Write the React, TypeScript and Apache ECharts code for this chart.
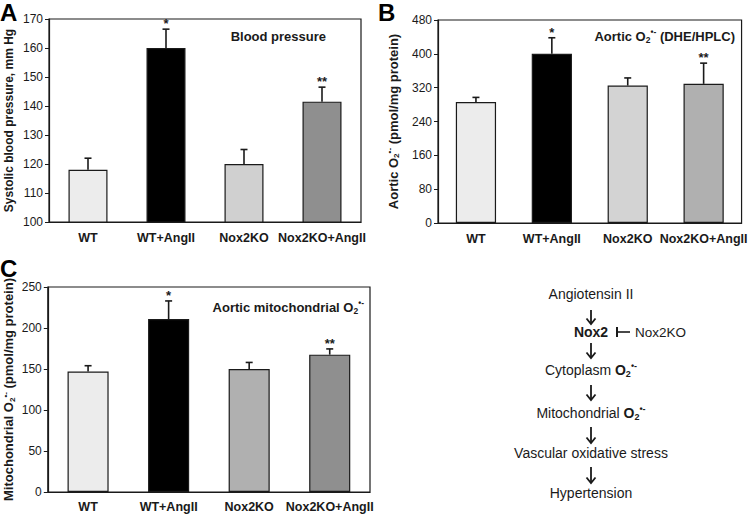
import React, { useEffect, useRef } from "react";
import * as echarts from "echarts";

const categories = ["WT", "WT+AngII", "Nox2KO", "Nox2KO+AngII"];

const bpMean = [118, 160, 120, 141.5];
const bpErr = [4, 6.5, 5, 5];
const bpSig = ["", "*", "", "**"];
const bpColors = ["#ececec", "#000000", "#d0d0d0", "#8f8f8f"];
const bpTicks = { min: 100, max: 170, interval: 10 };

const o2Mean = [286, 400, 325, 329];
const o2Err = [11, 38, 18, 49];
const o2Sig = ["", "*", "", "**"];
const o2Colors = ["#ececec", "#000000", "#d3d3d3", "#b0b0b0"];
const o2Ticks = { min: 0, max: 480, interval: 80 };

const mitoMean = [147, 211, 150, 167.5];
const mitoErr = [7, 22, 8, 7];
const mitoSig = ["", "*", "", "**"];
const mitoColors = ["#ececec", "#000000", "#b0b0b0", "#8f8f8f"];
const mitoTicks = { min: 0, max: 250, interval: 50 };

const FONT = '"Liberation Sans", Arial, Helvetica, sans-serif';
const DARK = "#1a1a1a";

const subRich = (size: number, bold: boolean) => ({
  n: { fontSize: size, fontWeight: bold ? "bold" : "normal", fontFamily: FONT, color: DARK },
  sub: { fontSize: size * 0.62, fontWeight: bold ? "bold" : "normal", fontFamily: FONT, color: DARK, padding: [size * 0.55, 0, 0, 0] },
  sup: { fontSize: size * 0.62, fontWeight: "bold", fontFamily: FONT, color: DARK, padding: [0, 0, size * 0.6, 0] },
});

function gridAxes(idx: number, ticks: { min: number; max: number; interval: number }, name: string, nameGap: number, labelMargin: number, nameSize: number, rich?: any) {
  const xAxis = {
    type: "category",
    gridIndex: idx,
    data: categories,
    axisLine: { lineStyle: { color: DARK, width: 1.2 } },
    axisTick: { show: false },
    axisLabel: { fontFamily: FONT, fontWeight: "bold", fontSize: 12.5, color: DARK, margin: labelMargin, interval: 0 },
  };
  const yAxis = {
    type: "value",
    gridIndex: idx,
    min: ticks.min,
    max: ticks.max,
    interval: ticks.interval,
    splitLine: { show: false },
    axisLine: { show: true, lineStyle: { color: DARK, width: 1.2 } },
    axisTick: { show: true, length: 4, lineStyle: { color: DARK, width: 1 } },
    axisLabel: { fontFamily: FONT, fontSize: 12, color: DARK, margin: 6 },
    name,
    nameLocation: "middle",
    nameRotate: 90,
    nameGap,
    nameTextStyle: { fontFamily: FONT, fontWeight: "bold", fontSize: nameSize, color: DARK, rich },
  };
  return { xAxis, yAxis };
}

function barSeries(idx: number, mean: number[], colors: string[], width: string) {
  return {
    type: "bar",
    xAxisIndex: idx,
    yAxisIndex: idx,
    barWidth: width,
    data: mean.map((v, i) => ({
      value: v,
      itemStyle: { color: colors[i], borderColor: DARK, borderWidth: 1.2 },
    })),
  };
}

function errSeries(idx: number, mean: number[], err: number[], sig: string[]) {
  return {
    type: "custom",
    xAxisIndex: idx,
    yAxisIndex: idx,
    z: 5,
    data: mean.map((v, i) => [i, v, v + err[i]]),
    renderItem: (params: any, api: any) => {
      const i = api.value(0);
      const lo = api.coord([i, api.value(1)]);
      const hi = api.coord([i, api.value(2)]);
      const s = sig[params.dataIndex];
      const children: any[] = [
        { type: "line", shape: { x1: lo[0], y1: lo[1], x2: hi[0], y2: hi[1] }, style: { stroke: DARK, lineWidth: 1.6 } },
        { type: "line", shape: { x1: hi[0] - 3.5, y1: hi[1], x2: hi[0] + 3.5, y2: hi[1] }, style: { stroke: DARK, lineWidth: 1.6 } },
      ];
      if (s) {
        children.push({
          type: "text",
          style: {
            text: s,
            x: hi[0],
            y: hi[1] + 1,
            align: "center",
            verticalAlign: "bottom",
            fontFamily: FONT,
            fontWeight: "bold",
            fontSize: 13,
            fill: DARK,
          },
        });
      }
      return { type: "group", children };
    },
  };
}

function arrow(x: number, y1: number, y2: number) {
  return [
    { type: "line", shape: { x1: x, y1, x2: x, y2 }, style: { stroke: DARK, lineWidth: 1.8 } },
    {
      type: "polyline",
      shape: { points: [[x - 4.5, y2 - 5.5], [x, y2], [x + 4.5, y2 - 5.5]] },
      style: { stroke: DARK, lineWidth: 1.8, fill: null },
    },
  ];
}

export default function App() {
  const ref = useRef<HTMLDivElement>(null);
  useEffect(() => {
    if (!ref.current) return;
    const chart = echarts.init(ref.current, null, { renderer: "svg" });
    const a = gridAxes(0, bpTicks, "Systolic blood pressure, mm Hg", 34, 9, 12);
    const b = gridAxes(1, o2Ticks, "{n|Aortic O}{sub|2}{sup|•-}{n| (pmol/mg protein)}", 37, 9, 13, subRich(13, true));
    const c = gridAxes(2, mitoTicks, "{n|Mitochondrial O}{sub|2}{sup|•-}{n| (pmol/mg protein)}", 31, 8, 13, subRich(13, true));

    const flowX = 591;
    const flowText = (y: number, text: string, rich?: any, bold = false) => ({
      type: "text",
      style: {
        text,
        x: flowX,
        y,
        align: "center",
        verticalAlign: "middle",
        fontFamily: FONT,
        fontSize: 14,
        fontWeight: bold ? "bold" : "normal",
        fill: DARK,
        rich,
      },
    });
    const flowRich = {
      n: { fontSize: 14, fontFamily: FONT, color: DARK },
      b: { fontSize: 14, fontFamily: FONT, fontWeight: "bold", color: DARK },
      sub: { fontSize: 9, fontFamily: FONT, fontWeight: "bold", color: DARK, padding: [8, 0, 0, 0] },
      sup: { fontSize: 9, fontFamily: FONT, fontWeight: "bold", color: DARK, padding: [0, 0, 8, 0] },
    };
    const titleRich = {
      n: { fontSize: 13, fontFamily: FONT, fontWeight: "bold", color: DARK },
      sub: { fontSize: 8.5, fontFamily: FONT, fontWeight: "bold", color: DARK, padding: [7, 0, 0, 0] },
      sup: { fontSize: 8.5, fontFamily: FONT, fontWeight: "bold", color: DARK, padding: [0, 0, 8, 0] },
    };
    const title = (x: number, y: number, text: string) => ({
      type: "text",
      z: 10,
      style: {
        text,
        x,
        y,
        align: "right",
        verticalAlign: "middle",
        fontFamily: FONT,
        fontSize: 13,
        fontWeight: "bold",
        fill: DARK,
        rich: titleRich,
      },
    });
    const letter = (x: number, y: number, t: string) => ({
      type: "text",
      style: { text: t, x, y, fontFamily: FONT, fontSize: 24, fontWeight: "bold", fill: "#000", align: "left", verticalAlign: "top" },
    });

    chart.setOption({
      animation: false,
      backgroundColor: "#ffffff",
      grid: [
        { left: 49, top: 19, width: 312, height: 203, show: true, borderColor: DARK, borderWidth: 1.2, backgroundColor: "transparent" },
        { left: 438, top: 20, width: 308, height: 203, show: true, borderColor: DARK, borderWidth: 1.2, backgroundColor: "transparent" },
        { left: 47, top: 287, width: 323, height: 205, show: true, borderColor: DARK, borderWidth: 1.2, backgroundColor: "transparent" },
      ],
      xAxis: [a.xAxis, b.xAxis, c.xAxis],
      yAxis: [a.yAxis, b.yAxis, c.yAxis],
      series: [
        barSeries(0, bpMean, bpColors, "50%"),
        errSeries(0, bpMean, bpErr, bpSig),
        barSeries(1, o2Mean, o2Colors, "53%"),
        errSeries(1, o2Mean, o2Err, o2Sig),
        barSeries(2, mitoMean, mitoColors, "51%"),
        errSeries(2, mitoMean, mitoErr, mitoSig),
      ],
      graphic: [
        letter(0, 0, "A"),
        letter(378, 0, "B"),
        letter(0, 256, "C"),
        title(326, 36, "{n|Blood pressure}"),
        title(735, 36, "{n|Aortic O}{sub|2}{sup|•-}{n| (DHE/HPLC)}"),
        title(364, 307, "{n|Aortic mitochondrial O}{sub|2}{sup|•-}"),
        flowText(294, "Angiotensin II"),
        ...arrow(flowX, 310, 324),
        flowText(332, "Nox2", undefined, true),
        { type: "line", shape: { x1: 617, y1: 327, x2: 617, y2: 337 }, style: { stroke: DARK, lineWidth: 2 } },
        { type: "line", shape: { x1: 617, y1: 332, x2: 630, y2: 332 }, style: { stroke: DARK, lineWidth: 1.6 } },
        {
          type: "text",
          style: { text: "Nox2KO", x: 635, y: 332, align: "left", verticalAlign: "middle", fontFamily: FONT, fontSize: 13.5, fill: DARK },
        },
        ...arrow(flowX, 343, 358),
        flowText(370, "{n|Cytoplasm }{b|O}{sub|2}{sup|•-}", flowRich),
        ...arrow(flowX, 385, 400),
        flowText(413, "{n|Mitochondrial }{b|O}{sub|2}{sup|•-}", flowRich),
        ...arrow(flowX, 427, 443),
        flowText(453, "Vascular oxidative stress"),
        ...arrow(flowX, 467, 483),
        flowText(493, "Hypertension"),
      ],
    });
    return () => chart.dispose();
  }, []);
  return <div ref={ref} style={{ width: 750, height: 515, position: "absolute", left: 0, top: 0 }} />;
}
